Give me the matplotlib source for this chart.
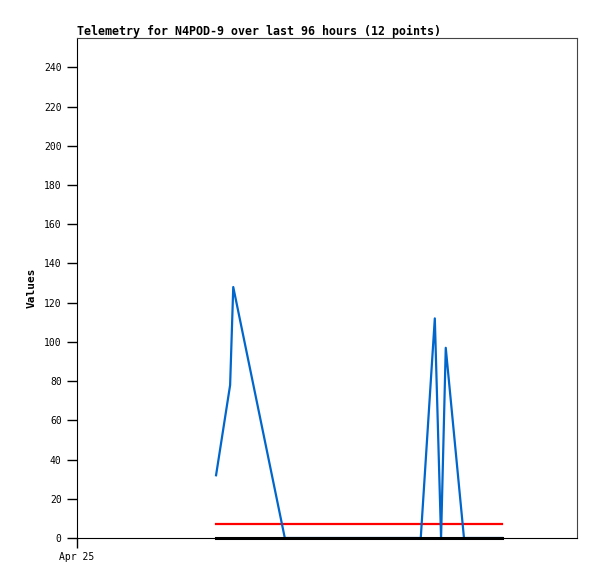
import matplotlib
matplotlib.use("Agg")
import matplotlib.pyplot as plt

# hours since Apr 25 00:00, window of 96 hours
hours = [26.7, 29.4, 30.0, 39.9, 52.0, 66.0, 68.7, 69.9, 70.8, 74.3, 78.0, 81.6]
values = [32, 78, 128, 0, 0, 0, 112, 0, 97, 0, 0, 0]
threshold = [7] * len(hours)
baseline = [0] * len(hours)

yticks = list(range(0, 241, 20))
xtick_pos = [0]
xtick_labels = ["Apr 25"]

fig = plt.figure(figsize=(5.97, 5.79), dpi=100)
ax = fig.add_axes([77 / 597, 41 / 579, 500 / 597, 500 / 579])

ax.plot(hours, threshold, color="#ff0000", lw=1.6, zorder=2)
ax.plot(hours, values, color="#0066cc", lw=1.6, zorder=3)
ax.plot(hours, baseline, color="#000000", lw=2.2, zorder=4, clip_on=False)

ax.set_xlim(0, 96)
ax.set_ylim(0, 255)
ax.set_yticks(yticks)
ax.set_xticks(xtick_pos)
ax.set_xticklabels(xtick_labels)

mono = "DejaVu Sans Mono"
for lab in ax.get_yticklabels() + ax.get_xticklabels():
    lab.set_fontfamily(mono)
    lab.set_fontsize(7)
ax.tick_params(axis="both", direction="out", length=7, width=1, color="black", pad=4)
ax.tick_params(axis="x", pad=3)

for side in ["top", "right"]:
    ax.spines[side].set_color("#444444")
for side in ["left", "bottom"]:
    ax.spines[side].set_color("black")

ax.set_ylabel("Values", fontfamily=mono, fontweight="bold", fontsize=8, labelpad=5)
ax.set_title("Telemetry for N4POD-9 over last 96 hours (12 points)",
             fontfamily=mono, fontweight="bold", fontsize=8.35, loc="left", pad=2)

fig.savefig("out.png", dpi=100)
